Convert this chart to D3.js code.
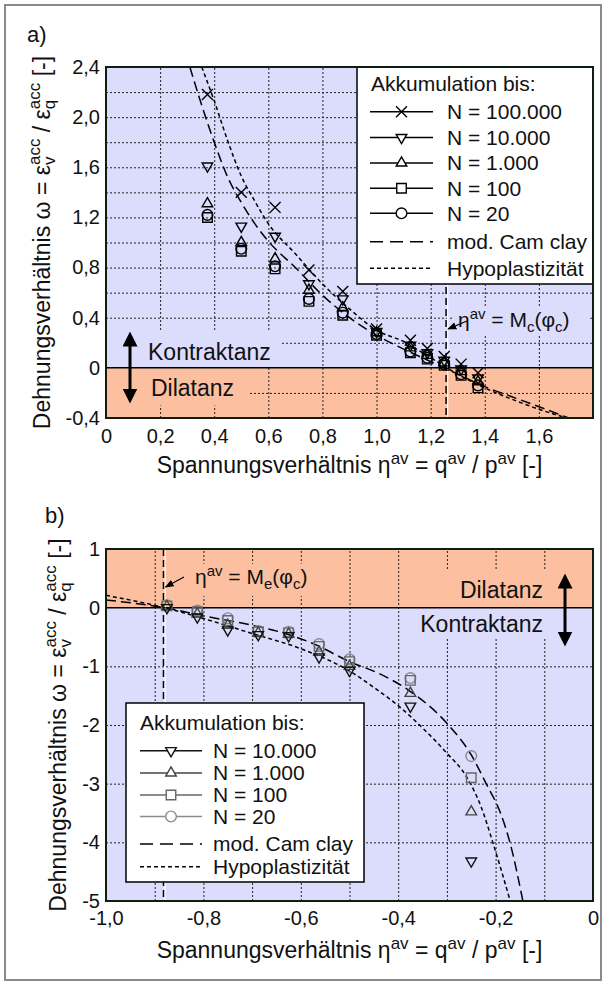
<!DOCTYPE html>
<html>
<head>
<meta charset="utf-8">
<script src="https://cdn.jsdelivr.net/npm/d3@7"></script>
<style>
body { margin: 0; background: #fff; }
svg text { font-family: "Liberation Sans", Arial, Helvetica, sans-serif; fill: #111; }
</style>
</head>
<body>
<div class="chart"></div>
<script>
// ---------- Daten (a: Kompression) ----------
const etaA = [0.375, 0.5, 0.625, 0.75, 0.875, 1.0, 1.125, 1.1875, 1.25, 1.3125, 1.375]
const omegaA_N100000 = [2.18, 1.40, 1.28, 0.78, 0.61, 0.31, 0.22, 0.155, 0.09, 0.03, -0.04]
const omegaA_N10000 = [1.61, 1.13, 1.05, 0.67, 0.55, 0.29, 0.18, 0.12, 0.06, -0.01, -0.08]
const omegaA_N1000 = [1.31, 1.00, 0.87, 0.62, 0.48, 0.28, 0.16, 0.10, 0.04, -0.03, -0.11]
const omegaA_N100 = [1.20, 0.93, 0.79, 0.53, 0.42, 0.26, 0.12, 0.07, 0.02, -0.06, -0.16]
const omegaA_N20 = [1.22, 0.95, 0.81, 0.55, 0.44, 0.27, 0.13, 0.08, 0.03, -0.05, -0.14]

const camA_eta = [0.31, 0.35, 0.40, 0.45, 0.50, 0.55, 0.60, 0.70, 0.80, 0.90, 1.00, 1.10, 1.20, 1.30, 1.40, 1.50, 1.60, 1.71]
const camA_omega = [2.40, 2.12, 1.80, 1.52, 1.32, 1.15, 1.01, 0.80, 0.58, 0.40, 0.26, 0.15, 0.05, -0.05, -0.15, -0.23, -0.31, -0.40]
const hypoA_eta = [0.354, 0.40, 0.45, 0.50, 0.55, 0.60, 0.70, 0.80, 0.90, 1.00, 1.10, 1.20, 1.30, 1.40, 1.50, 1.60, 1.72]
const hypoA_omega = [2.40, 2.13, 1.81, 1.53, 1.33, 1.15, 0.91, 0.67, 0.47, 0.30, 0.21, 0.08, -0.05, -0.16, -0.25, -0.33, -0.41]
const mcA = 1.257

// ---------- Daten (b: Extension) ----------
const etaB = [-0.875, -0.8125, -0.75, -0.6875, -0.625, -0.5625, -0.5, -0.375, -0.25]
const omegaB_N10000 = [0.0, -0.16, -0.38, -0.46, -0.48, -0.84, -1.07, -1.68, -4.32]
const omegaB_N1000 = [0.02, -0.11, -0.30, -0.43, -0.45, -0.76, -1.00, -1.46, -3.48]
const omegaB_N100 = [0.03, -0.07, -0.22, -0.41, -0.43, -0.66, -0.92, -1.24, -2.90]
const omegaB_N20 = [0.04, -0.05, -0.18, -0.40, -0.41, -0.62, -0.88, -1.20, -2.53]

const camB_eta = [-1.0, -0.88, -0.80, -0.70, -0.64, -0.57, -0.50, -0.44, -0.38, -0.30, -0.25, -0.22, -0.19, -0.17, -0.144]
const camB_omega = [0.13, 0.0, -0.14, -0.30, -0.42, -0.63, -0.92, -1.12, -1.40, -1.97, -2.51, -2.99, -3.50, -4.02, -5.0]
const hypoB_eta = [-1.0, -0.88, -0.79, -0.70, -0.60, -0.50, -0.45, -0.40, -0.35, -0.30, -0.26, -0.23, -0.205, -0.17]
const hypoB_omega = [0.21, 0.0, -0.21, -0.44, -0.70, -1.08, -1.36, -1.67, -2.05, -2.48, -2.88, -3.39, -4.02, -5.0]
const meB = -0.882

// Achsen
const xTicksA = [0, 0.2, 0.4, 0.6, 0.8, 1.0, 1.2, 1.4, 1.6]
const yTicksA = [-0.4, 0, 0.4, 0.8, 1.2, 1.6, 2.0, 2.4]
const xGridA = [0.2, 0.4, 0.6, 0.8, 1.0, 1.2, 1.4, 1.6]
const yGridA = [-0.2, 0.2, 0.4, 0.6, 0.8, 1.0, 1.2, 1.4, 1.6, 1.8, 2.0, 2.2]
const xTicksB = [-1.0, -0.8, -0.6, -0.4, -0.2, 0]
const yTicksB = [-5, -4, -3, -2, -1, 0, 1]
const xGridB = [-0.9, -0.8, -0.7, -0.6, -0.5, -0.4, -0.3, -0.2, -0.1]
const yGridB = [-4, -3, -2, -1]

const BLUE = '#dcdcfc'
const ORANGE = '#fcc0a0'

const loc = d3.formatLocale({ decimal: ',', thousands: '.', grouping: [3], currency: ['', ''], minus: '-' })
const f1 = loc.format('.1f')
const f0 = loc.format('d')
const fmtDec = d => (d === 0 ? '0' : f1(d))

const svg = d3.select('.chart').append('svg').attr('width', 607).attr('height', 985)

// Rahmen
svg.append('rect').attr('x', 5).attr('y', 5).attr('width', 596).attr('height', 975)
    .attr('fill', 'none').attr('stroke', '#8a8a8a').attr('stroke-width', 2)

// Pfeilspitze
const defs = svg.append('defs')
defs.append('marker').attr('id', 'bighead').attr('viewBox', '0 0 10 10')
    .attr('refX', 3).attr('refY', 5).attr('markerWidth', 5).attr('markerHeight', 5)
    .attr('orient', 'auto-start-reverse').attr('markerUnits', 'strokeWidth')
    .append('path').attr('d', 'M0,0 L10,5 L0,10 Z').attr('fill', '#000')
defs.append('marker').attr('id', 'smallhead').attr('viewBox', '0 0 10 10')
    .attr('refX', 9).attr('refY', 5).attr('markerWidth', 7).attr('markerHeight', 7)
    .attr('orient', 'auto').attr('markerUnits', 'strokeWidth')
    .append('path').attr('d', 'M0,1 L10,5 L0,9 Z').attr('fill', '#000')

function symbolPath(kind) {
    if (kind === 'x') return d3.symbol(d3.symbolTimes, 80)()
    if (kind === 'tdown' || kind === 'tup') return d3.symbol(d3.symbolTriangle2, 80)()
    if (kind === 'square') return d3.symbol(d3.symbolSquare2, 115)()
    return d3.symbol(d3.symbolCircle, 90)()
}
const symbolRot = kind => (kind === 'tdown' ? ' rotate(180)' : '')

// Text mit Hoch-/Tiefstellung
function richText(sel, parts, small) {
    parts.forEach(p => {
        const t = sel.append('tspan').text(p.t)
        if (p.dy) t.attr('dy', p.dy)
        if (p.dx) t.attr('dx', p.dx)
        if (p.s) t.attr('font-size', small)
    })
    return sel
}

function drawPanel(cfg) {
    const g = svg.append('g')
    const x = d3.scaleLinear().domain(cfg.xDomain).range([cfg.left, cfg.left + cfg.width])
    const y = d3.scaleLinear().domain(cfg.yDomain).range([cfg.top + cfg.height, cfg.top])
    const x0 = x.range()[0], x1 = x.range()[1]

    // Bereiche Kontraktanz / Dilatanz
    g.append('rect').attr('x', x0).attr('y', cfg.top).attr('width', cfg.width).attr('height', cfg.height).attr('fill', BLUE)
    const yEnd = cfg.dilatSign < 0 ? cfg.yDomain[0] : cfg.yDomain[1]
    g.append('rect').attr('x', x0).attr('y', Math.min(y(0), y(yEnd)))
        .attr('width', cfg.width).attr('height', Math.abs(y(0) - y(yEnd))).attr('fill', ORANGE)

    // Gitter
    const gx = g.append('g').attr('transform', `translate(0,${cfg.top + cfg.height})`)
        .call(d3.axisBottom(x).tickValues(cfg.xGrid).tickSize(-cfg.height).tickFormat(''))
    const gy = g.append('g').attr('transform', `translate(${x0},0)`)
        .call(d3.axisLeft(y).tickValues(cfg.yGrid).tickSize(-cfg.width).tickFormat(''))
    ;[gx, gy].forEach(a => {
        a.select('.domain').remove()
        a.selectAll('line').attr('stroke', '#222').attr('stroke-width', 1).attr('stroke-dasharray', '2,2')
    })

    // Hintergründe der Beschriftungen
    cfg.boxes.forEach(b => {
        g.append('rect').attr('x', x(b.x[0])).attr('y', y(b.y[1]))
            .attr('width', x(b.x[1]) - x(b.x[0])).attr('height', y(b.y[0]) - y(b.y[1]))
            .attr('fill', b.c)
    })

    // Nulllinie
    g.append('line').attr('x1', x0).attr('x2', x1).attr('y1', y(0)).attr('y2', y(0))
        .attr('stroke', '#000').attr('stroke-width', 1.5)

    // M-Linie
    g.append('line').attr('x1', x(cfg.mLine) + 1.6).attr('x2', x(cfg.mLine) + 1.6)
        .attr('y1', cfg.top).attr('y2', cfg.top + cfg.height).attr('stroke', '#fff').attr('stroke-width', 1.2)
    g.append('line').attr('x1', x(cfg.mLine)).attr('x2', x(cfg.mLine))
        .attr('y1', cfg.top).attr('y2', cfg.top + cfg.height)
        .attr('stroke', '#000').attr('stroke-width', 1.5).attr('stroke-dasharray', '7,4')

    // Modellkurven
    const lineGen = d3.line().x(d => x(d[0])).y(d => y(d[1])).curve(d3.curveMonotoneX)
    const clip = 'clip-' + cfg.id
    defs.append('clipPath').attr('id', clip).append('rect')
        .attr('x', x0).attr('y', cfg.top).attr('width', cfg.width).attr('height', cfg.height)
    cfg.curves.forEach(c => {
        g.append('path').attr('d', lineGen(d3.zip(c.eta, c.omega)))
            .attr('clip-path', `url(#${clip})`)
            .attr('fill', 'none').attr('stroke', '#000').attr('stroke-width', 1.5)
            .attr('stroke-dasharray', c.dash)
    })

    // Messpunkte
    cfg.series.slice().reverse().forEach(s => {
        g.append('g').selectAll('path').data(d3.zip(cfg.eta, s.values)).join('path')
            .attr('d', symbolPath(s.symbol))
            .attr('transform', d => `translate(${x(d[0])},${y(d[1])})${symbolRot(s.symbol)}`)
            .attr('fill', 'none').attr('stroke', s.color).attr('stroke-width', 1.4)
    })

    // Achsenbeschriftung
    const ax = g.append('g').attr('transform', `translate(0,${cfg.top + cfg.height})`)
        .call(d3.axisBottom(x).tickValues(cfg.xTicks).tickSize(0).tickPadding(cfg.xPad).tickFormat(cfg.xFmt))
    const ay = g.append('g').attr('transform', `translate(${x0},0)`)
        .call(d3.axisLeft(y).tickValues(cfg.yTicks).tickSize(0).tickPadding(6).tickFormat(cfg.yFmt))
    ;[ax, ay].forEach(a => { a.select('.domain').remove(); a.attr('font-size', 20) })

    // Legende
    const L = cfg.legend
    const lg = g.append('g')
    lg.append('rect').attr('x', L.x).attr('y', L.y).attr('width', L.w).attr('height', L.h)
        .attr('fill', '#fff').attr('stroke', '#000').attr('stroke-width', 1.5)
    lg.append('text').attr('x', L.titleX).attr('y', L.titleY).attr('dy', '0.35em')
        .attr('font-size', 21).text('Akkumulation bis:')
    const entries = cfg.series.map(s => ({ label: s.name, color: s.color, symbol: s.symbol, dash: null }))
        .concat(cfg.curves.map(c => ({ label: c.name, color: '#000', symbol: null, dash: c.legendDash })))
    entries.forEach((e, i) => {
        const yy = L.rows[i]
        lg.append('line').attr('x1', L.lineX0).attr('x2', L.lineX1).attr('y1', yy).attr('y2', yy)
            .attr('stroke', e.color).attr('stroke-width', 1.5).attr('stroke-dasharray', e.dash)
        if (e.symbol) {
            lg.append('path').attr('d', symbolPath(e.symbol))
                .attr('transform', `translate(${(L.lineX0 + L.lineX1) / 2},${yy})${symbolRot(e.symbol)}`)
                .attr('fill', '#fff').attr('stroke', e.color).attr('stroke-width', 1.4)
        }
        lg.append('text').attr('x', L.textX).attr('y', yy).attr('dy', '0.35em')
            .attr('font-size', 21).text(e.label)
    })

    // Kontraktanz / Dilatanz
    cfg.zoneLabels.forEach(z => {
        g.append('text').attr('x', z.x).attr('y', z.y).attr('font-size', 23)
            .attr('text-anchor', z.anchor).text(z.t)
    })
    g.append('line').attr('x1', cfg.dblArrow.x).attr('x2', cfg.dblArrow.x)
        .attr('y1', cfg.dblArrow.y0 + 7).attr('y2', cfg.dblArrow.y1 - 7)
        .attr('stroke', '#000').attr('stroke-width', 3)
        .attr('marker-start', 'url(#bighead)').attr('marker-end', 'url(#bighead)')

    // Annotation M-Linie
    const an = cfg.annot
    richText(g.append('text').attr('x', an.x).attr('y', an.y).attr('font-size', 21), [
        { t: 'η' }, { t: 'av', s: 1, dy: -8 }, { t: ' = M', dy: 8 }, { t: an.sub, s: 1, dy: 5 },
        { t: '(φ', dy: -5 }, { t: 'c', s: 1, dy: 5 }, { t: ')', dy: -5 }
    ], 15)
    g.append('line').attr('x1', an.ax0).attr('y1', an.ay0).attr('x2', x(cfg.mLine) + 2).attr('y2', an.ay1)
        .attr('stroke', '#000').attr('stroke-width', 1.3).attr('marker-end', 'url(#smallhead)')

    // Panel-Buchstabe
    g.append('text').attr('x', cfg.tag.x).attr('y', cfg.tag.y).attr('font-size', 22).text(cfg.tag.t)

    // Achsentitel
    richText(g.append('text').attr('x', (x0 + x1) / 2).attr('y', cfg.xTitleY)
        .attr('text-anchor', 'middle').attr('font-size', 23), [
        { t: 'Spannungsverhältnis η' }, { t: 'av', s: 1, dy: -9 }, { t: ' = q', dy: 9 },
        { t: 'av', s: 1, dy: -9 }, { t: ' / p', dy: 9 }, { t: 'av', s: 1, dy: -9 }, { t: ' [-]', dy: 9 }
    ], 17)
    const cy = cfg.top + cfg.height / 2
    richText(g.append('text').attr('transform', `translate(${cfg.yTitleX},${cy}) rotate(-90)`)
        .attr('text-anchor', 'middle').attr('font-size', 23), [
        { t: 'Dehnungsverhältnis ω = ε' }, { t: 'v', s: 1, dy: 5 }, { t: 'acc', s: 1, dx: -8.5, dy: -15 },
        { t: ' / ε', dy: 10 }, { t: 'q', s: 1, dy: 5 }, { t: 'acc', s: 1, dx: -9.5, dy: -15 }, { t: ' [-]', dy: 10 }
    ], 17)

    // Plotrahmen
    g.append('rect').attr('x', x0).attr('y', cfg.top).attr('width', cfg.width).attr('height', cfg.height)
        .attr('fill', 'none').attr('stroke', '#0f1f0f').attr('stroke-width', 2)
}

drawPanel({
    id: 'a', left: 106, top: 67, width: 487, height: 351,
    xDomain: [0, 1.8], yDomain: [-0.4, 2.4], dilatSign: -1,
    xGrid: xGridA, yGrid: yGridA, xTicks: xTicksA, yTicks: yTicksA,
    xFmt: fmtDec, yFmt: fmtDec, xPad: 11,
    eta: etaA,
    series: [
        { name: 'N = 100.000', symbol: 'x', color: '#000', values: omegaA_N100000 },
        { name: 'N = 10.000', symbol: 'tdown', color: '#000', values: omegaA_N10000 },
        { name: 'N = 1.000', symbol: 'tup', color: '#000', values: omegaA_N1000 },
        { name: 'N = 100', symbol: 'square', color: '#000', values: omegaA_N100 },
        { name: 'N = 20', symbol: 'circle', color: '#000', values: omegaA_N20 }
    ],
    curves: [
        { name: 'mod. Cam clay', eta: camA_eta, omega: camA_omega, dash: '10,5', legendDash: '13,7' },
        { name: 'Hypoplastizität', eta: hypoA_eta, omega: hypoA_omega, dash: '4,3', legendDash: '4,3' }
    ],
    mLine: mcA,
    boxes: [
        { x: [0, 0.65], y: [0, 0.29], c: BLUE },
        { x: [0, 0.53], y: [-0.3, 0], c: ORANGE },
        { x: [1.285, 1.79], y: [0.27, 0.48], c: BLUE }
    ],
    legend: { x: 357, y: 67, w: 236, h: 217, titleX: 371, titleY: 84, lineX0: 370, lineX1: 433, textX: 447,
        rows: [111.7, 137.5, 163, 188.3, 213.3, 241.7, 268.3] },
    zoneLabels: [
        { t: 'Kontraktanz', x: 148, y: 360, anchor: 'start' },
        { t: 'Dilatanz', x: 151, y: 396, anchor: 'start' }
    ],
    dblArrow: { x: 130, y0: 335, y1: 400 },
    annot: { x: 458, y: 327, sub: 'c', ax0: 467, ay0: 321, ay1: 329 },
    tag: { t: 'a)', x: 27, y: 42 },
    xTitleY: 473, yTitleX: 50
})

drawPanel({
    id: 'b', left: 106, top: 549, width: 487, height: 352,
    xDomain: [-1, 0], yDomain: [-5, 1], dilatSign: 1,
    xGrid: xGridB, yGrid: yGridB, xTicks: xTicksB, yTicks: yTicksB,
    xFmt: fmtDec, yFmt: f0, xPad: 10,
    eta: etaB,
    series: [
        { name: 'N = 10.000', symbol: 'tdown', color: '#111', values: omegaB_N10000 },
        { name: 'N = 1.000', symbol: 'tup', color: '#444', values: omegaB_N1000 },
        { name: 'N = 100', symbol: 'square', color: '#666', values: omegaB_N100 },
        { name: 'N = 20', symbol: 'circle', color: '#8c8c8c', values: omegaB_N20 }
    ],
    curves: [
        { name: 'mod. Cam clay', eta: camB_eta, omega: camB_omega, dash: '10,5', legendDash: '13,7' },
        { name: 'Hypoplastizität', eta: hypoB_eta, omega: hypoB_omega, dash: '4,3', legendDash: '4,3' }
    ],
    mLine: meB,
    boxes: [
        { x: [-0.33, 0], y: [0, 0.64], c: ORANGE },
        { x: [-0.37, 0], y: [-0.5, 0], c: BLUE },
        { x: [-0.85, -0.58], y: [0.2, 0.75], c: ORANGE }
    ],
    legend: { x: 126, y: 703, w: 238, h: 179, titleX: 140, titleY: 723, lineX0: 140, lineX1: 202, textX: 213,
        rows: [750.7, 773, 795, 816.5, 844, 866.7] },
    zoneLabels: [
        { t: 'Dilatanz', x: 543, y: 598, anchor: 'end' },
        { t: 'Kontraktanz', x: 543, y: 632, anchor: 'end' }
    ],
    dblArrow: { x: 565, y0: 577, y1: 643 },
    annot: { x: 195, y: 584, sub: 'e', ax0: 184, ay0: 577, ay1: 587 },
    tag: { t: 'b)', x: 45, y: 523 },
    xTitleY: 958, yTitleX: 66
})
</script>
</body>
</html>
